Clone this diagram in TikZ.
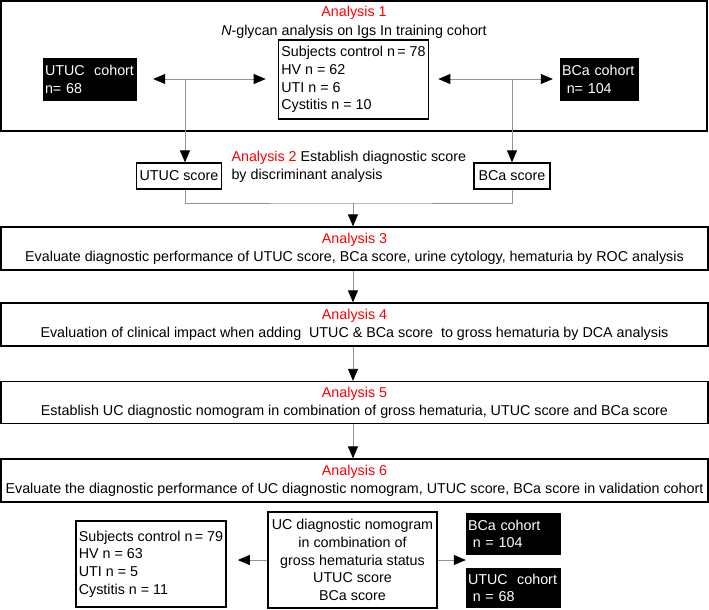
\documentclass[tikz,border=0pt]{standalone}
\usepackage{fontspec}
\setmainfont{Liberation Sans}
\usetikzlibrary{arrows.meta}

\begin{document}
\begin{tikzpicture}[x=1pt,y=-1pt,every node/.style={font=\fontsize{14.3}{17.7}\selectfont}]

	\tikzset{box/.style = {shape=rectangle,draw,line width=1.3pt,align=center,inner sep=3pt}}
	\tikzset{cohort/.style = {shape=rectangle,fill=black,text=white,align=left,inner sep=2pt}}
	\tikzset{edge/.style = {draw=gray!85,line width=0.8pt,> = {Triangle[length=12pt,width=10pt,color=black]}}}
	\tikzset{title/.style = {text=red}}

	\useasboundingbox (0,0) rectangle (709,610);

	\node[box,line width=1.8pt,minimum width=706pt,minimum height=130pt] (a1) at (354,66) {};
	\node[title] (t1) at (354,13) {Analysis 1};
	\node (g1) at (354,32) {\textit{N}-glycan analysis on Igs In training cohort};
	\node[box,align=left,minimum width=149pt,minimum height=79pt] (subj1) at (353.5,79.5) {Subjects control n\,= 78\\HV n = 62\\UTI n = 6\\Cystitis n = 10};
	\node[cohort,text width=90pt,minimum height=43pt] (utuc1) at (90,79.5) {UTUC\ \ cohort\\n= 68};
	\node[cohort,text width=75pt,minimum height=43pt] (bca1) at (599.5,79.5) {BCa cohort\\\ n= 104};

	\node[box,minimum width=84pt,minimum height=26pt] (uscore) at (179,176) {UTUC score};
	\node[box,minimum width=76pt,minimum height=26pt] (bscore) at (512,176) {BCa score};
	\node[align=left,anchor=west] (t2) at (228,167) {\textcolor{red}{Analysis 2} Establish diagnostic score\\by discriminant analysis};

	\node[box,minimum width=707pt,minimum height=43pt] (a3) at (354.5,248.5) {\textcolor{red}{Analysis 3}\\Evaluate diagnostic performance of UTUC score, BCa score, urine cytology, hematuria by ROC analysis};
	\node[box,minimum width=707pt,minimum height=43pt] (a4) at (354.5,324.5) {\textcolor{red}{Analysis 4}\\Evaluation of clinical impact when adding\ \ UTUC \& BCa score\ \ to gross hematuria by DCA analysis};
	\node[box,minimum width=707pt,minimum height=42pt] (a5) at (354.5,402.5) {\textcolor{red}{Analysis 5}\\Establish UC diagnostic nomogram in combination of gross hematuria, UTUC score and BCa score};
	\node[box,minimum width=707pt,minimum height=43pt] (a6) at (354.5,480.5) {\textcolor{red}{Analysis 6}\\Evaluate the diagnostic performance of UC diagnostic nomogram, UTUC score, BCa score in validation cohort};

	\node[box,minimum width=169pt,minimum height=96pt] (nom) at (352.5,560) {UC diagnostic nomogram\\in combination of\\gross hematuria status\\UTUC score\\BCa score};
	\node[box,align=left,minimum width=150pt,minimum height=86pt] (subj2) at (151,564) {Subjects control n\,= 79\\HV n = 63\\UTI n = 5\\Cystitis n = 11};
	\node[cohort,text width=91pt,minimum height=42pt] (bca2) at (513.5,534) {BCa cohort\\\ n = 104};
	\node[cohort,text width=91pt,minimum height=40pt] (utuc2) at (513.5,588) {UTUC\ \ cohort\\\ n = 68};

	\coordinate (lj) at (185,79);
	\coordinate (rj) at (512,79);
	\coordinate (mid) at (353,203);

	\draw[edge,<->,shorten <=16pt,shorten >=12pt] (utuc1.east |- lj) to (subj1.west |- lj);
	\draw[edge,<->,shorten <=9pt,shorten >=7pt] (subj1.east |- rj) to (bca1.west |- rj);
	\draw[edge,->] (lj) to (lj |- uscore.north);
	\draw[edge,->] (rj) to (rj |- bscore.north);
	\draw[edge] (lj |- uscore.south) |- (mid) -| (rj |- bscore.south);
	\draw[edge,->] (mid) to (mid |- a3.north);
	\draw[edge,->] (a3.south -| mid) to (a4.north -| mid);
	\draw[edge,->] (a4.south -| mid) to (a5.north -| mid);
	\draw[edge,->] (a5.south -| mid) to (a6.north -| mid);
	\draw[edge,->,shorten >=11pt] (nom.west) to (subj2.east |- nom.west);
	\draw[edge,->] (nom.east) to (bca2.west |- nom.east);
\end{tikzpicture}
\end{document}
